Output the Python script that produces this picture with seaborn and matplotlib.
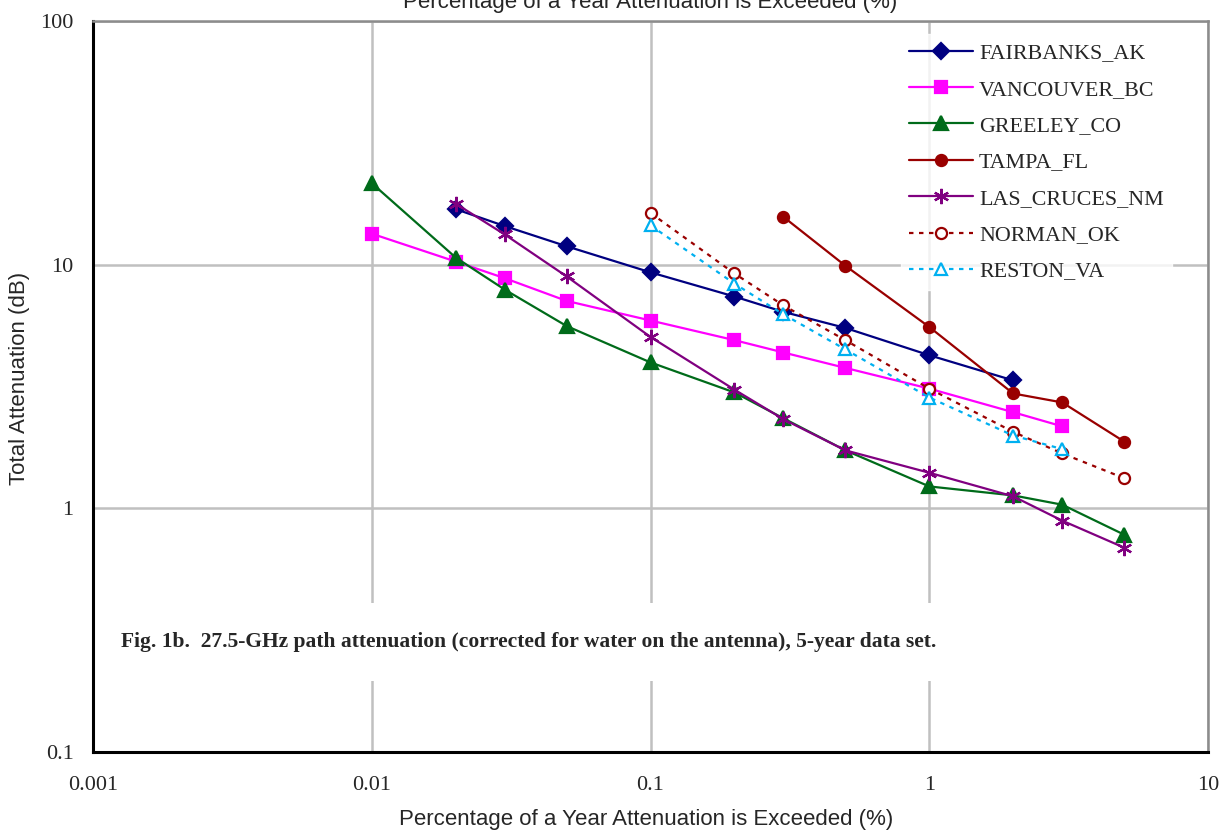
import numpy as np
import pandas as pd
import seaborn as sns
import matplotlib.pyplot as plt
from matplotlib.ticker import LogLocator, FixedLocator, FixedFormatter, NullFormatter

# Values (percent of year exceeded vs total attenuation dB)
fairbanks_x = [0.02, 0.03, 0.05, 0.1, 0.2, 0.3, 0.5, 1, 2]
fairbanks_y = [16.9, 14.4, 11.9, 9.3, 7.4, 6.4, 5.5, 4.25, 3.35]

vancouver_x = [0.01, 0.02, 0.03, 0.05, 0.1, 0.2, 0.3, 0.5, 1, 2, 3]
vancouver_y = [13.4, 10.3, 8.8, 7.1, 5.9, 4.9, 4.36, 3.77, 3.1, 2.48, 2.17]

greeley_x = [0.01, 0.02, 0.03, 0.05, 0.1, 0.2, 0.3, 0.5, 1, 2, 3, 5]
greeley_y = [21.6, 10.7, 7.9, 5.6, 3.97, 2.99, 2.34, 1.73, 1.23, 1.13, 1.035, 0.78]

tampa_x = [0.3, 0.5, 1, 2, 3, 5]
tampa_y = [15.7, 9.9, 5.55, 2.96, 2.72, 1.88]

lascruces_x = [0.02, 0.03, 0.05, 0.1, 0.2, 0.3, 0.5, 1, 2, 3, 5]
lascruces_y = [17.8, 13.3, 8.95, 5.05, 3.07, 2.32, 1.73, 1.40, 1.12, 0.89, 0.69]

norman_x = [0.1, 0.2, 0.3, 0.5, 1, 2, 3, 5]
norman_y = [16.3, 9.2, 6.8, 4.9, 3.1, 2.06, 1.68, 1.33]

reston_x = [0.1, 0.2, 0.3, 0.5, 1, 2, 3]
reston_y = [14.5, 8.36, 6.25, 4.49, 2.85, 1.99, 1.75]

series = [
    ("FAIRBANKS_AK", fairbanks_x, fairbanks_y, "#000080", "D", "-", "#000080", 8),
    ("VANCOUVER_BC", vancouver_x, vancouver_y, "#FF00FF", "s", "-", "#FF00FF", 9),
    ("GREELEY_CO", greeley_x, greeley_y, "#006B1A", "^", "-", "#006B1A", 10),
    ("TAMPA_FL", tampa_x, tampa_y, "#990000", "o", "-", "#990000", 8),
    ("LAS_CRUCES_NM", lascruces_x, lascruces_y, "#800080", (6, 2, 0), "-", "#800080", 11),
    ("NORMAN_OK", norman_x, norman_y, "#990000", "o", (2, 2.5), "white", 8),
    ("RESTON_VA", reston_x, reston_y, "#00B0F0", "^", (2, 2.5), "white", 9),
]

sns.set_style("white")
plt.rcParams['font.family'] = ['Liberation Serif', 'DejaVu Serif']

fig = plt.figure(figsize=(12.28, 8.32), dpi=100)
ax = fig.add_axes([93 / 1228, 1 - 752 / 832, 1115 / 1228, 731 / 832])

for name, xs, ys, color, marker, ls, face, ms in series:
    df = pd.DataFrame({"x": xs, "y": ys})
    sns.lineplot(data=df, x="x", y="y", ax=ax, color=color, marker=marker,
                 markersize=ms, markerfacecolor=face, markeredgecolor=color,
                 markeredgewidth=1.6, linewidth=1.6, label=name, zorder=3)
    line = ax.get_lines()[-1]
    if ls != "-":
        line.set_dashes(ls)

ax.set_xscale("log")
ax.set_yscale("log")
ax.set_xlim(0.001, 10)
ax.set_ylim(0.1, 100)

x_major = [0.001, 0.01, 0.1, 1, 10]
x_labels = ["0.001", "0.01", "0.1", "1", "10"]
y_major = [0.1, 1, 10, 100]
y_labels = ["0.1", "1", "10", "100"]
ax.xaxis.set_major_locator(FixedLocator(x_major))
ax.xaxis.set_major_formatter(FixedFormatter(x_labels))
ax.yaxis.set_major_locator(FixedLocator(y_major))
ax.yaxis.set_major_formatter(FixedFormatter(y_labels))
ax.xaxis.set_minor_locator(LogLocator(base=10, subs=np.arange(2, 10)))
ax.yaxis.set_minor_locator(LogLocator(base=10, subs=np.arange(2, 10)))
ax.xaxis.set_minor_formatter(NullFormatter())
ax.yaxis.set_minor_formatter(NullFormatter())

ax.tick_params(which="both", direction="in", color="black", width=1.5,
               labelsize=16, top=False, right=False)
ax.tick_params(which="major", length=6)
ax.tick_params(which="minor", length=5)
ax.tick_params(axis="x", which="major", pad=17)
ax.tick_params(axis="y", which="major", pad=14)

ax.grid(True, which="major", color="#c0c0c0", linewidth=1.8, zorder=0)
ax.set_axisbelow(True)

for side in ["left", "bottom"]:
    ax.spines[side].set_color("black")
    ax.spines[side].set_linewidth(2.2)
for side in ["top", "right"]:
    ax.spines[side].set_color("#8c8c8c")
    ax.spines[side].set_linewidth(1.8)
    ax.spines[side].set_visible(True)
for side in ax.spines:
    ax.spines[side].set_zorder(6)

ax.set_xlabel("")
ax.set_ylabel("")
fig.text(646 / 1228, 1 - 820 / 832, "Percentage of a Year Attenuation is Exceeded (%)",
         ha="center", va="center", fontsize=16, family="Liberation Sans")
# title repeated at the very top, partly cut off as in the source
fig.text(650 / 1228, 1 - 8 / 832, "Percentage of a Year Attenuation is Exceeded (%)",
         ha="center", va="baseline", fontsize=16, family="Liberation Sans")
fig.text(20 / 1228, 1 - 378 / 832, "Total Attenuation (dB)", rotation=90,
         ha="center", va="center", fontsize=16, family="Liberation Sans")

ax.text(0.025, 0.1505, "Fig. 1b.  27.5-GHz path attenuation (corrected for water on the antenna), 5-year data set.",
        transform=ax.transAxes, fontsize=15.5, fontweight="bold", ha="left", va="center",
        bbox=dict(facecolor="white", edgecolor="none", pad=21), zorder=4)

leg = ax.legend(loc="upper right", bbox_to_anchor=(0.978, 0.997), fontsize=15.8,
                frameon=True, fancybox=False, handlelength=2.9, labelspacing=0.73,
                handletextpad=0.27, borderpad=0.4)
leg.get_frame().set_facecolor("white")
leg.get_frame().set_edgecolor("white")
leg.set_zorder(5)

fig.savefig("out.png", dpi=100)
